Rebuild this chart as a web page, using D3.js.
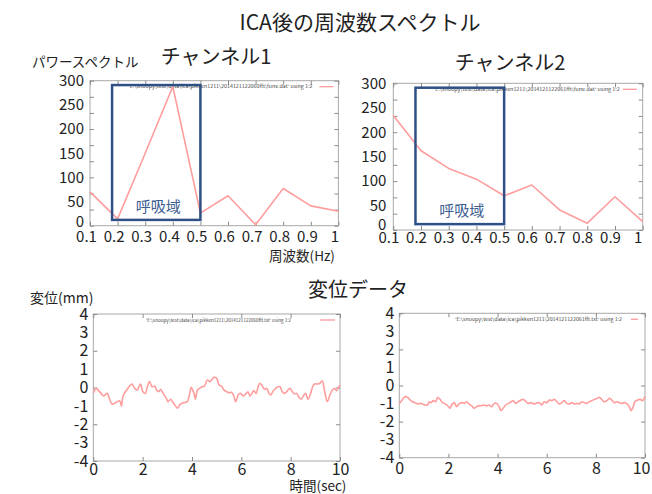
<!DOCTYPE html>
<html>
<head>
<meta charset="utf-8">
<script src="https://cdn.jsdelivr.net/npm/d3@7/dist/d3.min.js"></script>
<style>
body { margin: 0; background: #fff; }
text { font-family: "Noto Sans CJK JP", "Noto Sans", sans-serif; fill: #222; }
</style>
</head>
<body>
<script>
var width = 652
var height = 494

var freqs = [0.1, 0.2, 0.3, 0.4, 0.5, 0.6, 0.7, 0.8, 0.9, 1.0]
var spec1 = [70, 14, 150, 288, 26, 62, 2, 77, 41, 30]
var spec2 = [234, 162, 126, 104, 70, 92, 41, 14, 68, 17]
var specTicks = [0, 50, 100, 150, 200, 250, 300]
var freqTicks = [0.1, 0.2, 0.3, 0.4, 0.5, 0.6, 0.7, 0.8, 0.9, 1]
var dispTicks = [-4, -3, -2, -1, 0, 1, 2, 3, 4]
var timeTicks = [0, 2, 4, 6, 8, 10]
var breathBand = [0.18, 0.5]
var breathLevel = [12, 291]

// [sec, mm]
var disp1 = [[0,-0.3],[0.12,-0.05],[0.19,-0.14],[0.32,-0.32],[0.42,-0.46],[0.57,-0.32],[0.66,-0.64],[0.76,-0.9],[0.87,-0.86],[0.97,-0.77],[1.07,-0.72],[1.14,-1.0],[1.2,-0.5],[1.3,-0.23],[1.38,-0.1],[1.47,0.08],[1.57,0.19],[1.68,-0.05],[1.78,-0.14],[1.91,0.19],[2.01,-0.23],[2.11,-0.32],[2.19,0.04],[2.28,0.32],[2.38,0.04],[2.49,0.08],[2.56,-0.14],[2.65,-0.23],[2.73,-0.1],[2.83,-0.32],[2.96,-0.59],[3.03,-0.77],[3.14,-0.64],[3.23,-0.82],[3.33,-1.0],[3.41,-1.13],[3.5,-0.95],[3.6,-0.86],[3.7,-0.82],[3.81,-0.77],[3.91,-0.32],[3.97,0.01],[4.08,-0.32],[4.14,-0.64],[4.22,-0.14],[4.31,-0.05],[4.41,0.04],[4.51,0.08],[4.62,0.41],[4.72,0.32],[4.81,0.44],[4.89,0.55],[5.0,0.5],[5.1,0.14],[5.19,0.08],[5.3,-0.14],[5.41,-0.23],[5.5,-0.28],[5.6,-0.26],[5.68,-0.41],[5.77,-0.77],[5.87,-0.41],[5.97,-0.32],[6.08,-0.46],[6.18,-0.35],[6.27,-0.23],[6.35,-0.46],[6.45,-0.28],[6.51,-0.17],[6.6,-0.32],[6.68,0.04],[6.76,0.23],[6.85,0.08],[6.95,-0.1],[7.03,-0.05],[7.12,-0.32],[7.19,-0.41],[7.3,-0.17],[7.39,-0.05],[7.49,0.04],[7.57,0.04],[7.66,-0.23],[7.76,-0.32],[7.87,-0.17],[7.97,-0.05],[8.07,-0.23],[8.16,-0.35],[8.24,-0.32],[8.34,-0.54],[8.43,-0.64],[8.51,-0.46],[8.61,-0.32],[8.7,-0.64],[8.81,-0.32],[8.89,0.04],[8.97,0.19],[9.08,0.19],[9.19,0.23],[9.28,0.37],[9.38,-0.23],[9.49,-0.77],[9.59,-0.41],[9.69,-0.14],[9.78,-0.05],[9.86,-0.17],[9.96,0.04],[10,0.14]]
var disp2 = [[0,-0.99],[0.12,-0.8],[0.23,-0.62],[0.34,-0.66],[0.44,-0.8],[0.53,-0.9],[0.64,-0.95],[0.75,-1.02],[0.84,-0.99],[0.94,-1.02],[1.05,-1.08],[1.14,-1.08],[1.22,-0.9],[1.29,-0.95],[1.39,-0.84],[1.48,-0.9],[1.56,-0.66],[1.66,-0.77],[1.75,-0.95],[1.83,-0.99],[1.93,-1.08],[2.0,-1.17],[2.06,-1.26],[2.16,-1.02],[2.24,-0.95],[2.33,-1.17],[2.43,-1.02],[2.54,-0.95],[2.65,-0.99],[2.74,-0.9],[2.84,-1.02],[2.95,-1.13],[3.05,-1.26],[3.15,-1.17],[3.24,-1.13],[3.35,-1.12],[3.46,-1.08],[3.56,-1.13],[3.65,-1.08],[3.76,-1.17],[3.87,-0.99],[3.96,-0.99],[4.06,-1.17],[4.14,-1.39],[4.23,-1.26],[4.33,-1.08],[4.44,-0.99],[4.55,-0.9],[4.64,-0.84],[4.74,-0.99],[4.84,-0.9],[4.95,-0.8],[5.06,-0.77],[5.16,-0.9],[5.25,-0.99],[5.36,-0.95],[5.47,-1.02],[5.56,-0.99],[5.7,-0.95],[5.8,-1.08],[5.9,-0.9],[6.01,-0.95],[6.11,-0.8],[6.2,-0.84],[6.31,-0.77],[6.42,-0.9],[6.51,-1.02],[6.61,-0.95],[6.72,-0.84],[6.81,-0.99],[6.92,-1.02],[7.02,-0.95],[7.12,-1.02],[7.23,-0.99],[7.33,-1.02],[7.42,-0.9],[7.53,-0.95],[7.64,-0.99],[7.73,-0.9],[7.83,-0.84],[7.94,-0.77],[8.05,-0.71],[8.14,-0.66],[8.24,-0.77],[8.34,-0.9],[8.45,-0.84],[8.55,-0.71],[8.64,-0.8],[8.75,-0.95],[8.86,-0.9],[8.95,-0.95],[9.05,-0.99],[9.16,-0.95],[9.27,-1.02],[9.36,-1.17],[9.43,-1.39],[9.51,-1.21],[9.59,-0.9],[9.7,-0.8],[9.81,-0.77],[9.9,-0.84],[10,-0.6]]

var legendSpec1 = "'E:\\snoopy\\test\\data\\ica\\pikken1211\\2014121122060fft\\fune.dat' using 1:2"
var legendSpec2 = "'E:\\snoopy\\test\\data\\ica\\pikken1211\\2014121122061fft\\fune.dat' using 1:2"
var legendDisp1 = "'E:\\snoopy\\test\\data\\ica\\pikken1211\\2014121122060fft.txt' using 1:2"
var legendDisp2 = "'E:\\snoopy\\test\\data\\ica\\pikken1211\\2014121122061fft.txt' using 1:2"

var svg = d3.select('body').append('svg').attr('width', width).attr('height', height)
svg.append('rect').attr('width', width).attr('height', height).attr('fill', '#fff')

const panel = p => {
    const x = d3.scaleLinear().domain(p.xDomain).range([p.left, p.right])
    const y = d3.scaleLinear().domain(p.yDomain).range([p.bottom, p.top])
    const g = svg.append('g')

    // gnuplot style frame with inward ticks
    g.append('rect').attr('x', p.left).attr('y', p.top).attr('width', p.right - p.left).attr('height', p.bottom - p.top)
        .attr('fill', 'none').attr('stroke', '#a8a8a8').attr('stroke-width', 1)
    const inner = [
        [d3.axisBottom(x).tickValues(p.frameX), `translate(0,${p.bottom})`],
        [d3.axisTop(x).tickValues(p.frameX), `translate(0,${p.top})`],
        [d3.axisLeft(y).tickValues(p.frameY), `translate(${p.left},0)`],
        [d3.axisRight(y).tickValues(p.frameY), `translate(${p.right},0)`]
    ]
    inner.forEach(a => {
        const ag = g.append('g').attr('transform', a[1]).call(a[0].tickSize(-4).tickFormat(''))
        ag.select('.domain').remove()
        ag.selectAll('line').attr('stroke', '#8a8a8a')
    })

    // labels
    const xl = g.append('g').attr('transform', `translate(${p.xdx},${p.bottom})`)
        .call(d3.axisBottom(x).tickValues(p.xTicks).tickSize(0).tickPadding(p.xPad).tickFormat(d => d))
    xl.select('.domain').remove()
    xl.selectAll('text').attr('font-size', p.fs).attr('fill', '#222').attr('font-family', '"Noto Sans CJK JP", sans-serif')
    // keep the last label inside the page
    xl.selectAll('text').each(function (d) {
        const over = x(d) + p.xdx + this.getComputedTextLength() / 2 - (width - 2)
        if (over > 0) d3.select(this).attr('dx', -over)
    })
    const yl = g.append('g').attr('transform', `translate(${p.left},0)`)
        .call(d3.axisLeft(y).tickValues(p.yTicks).tickSize(0).tickPadding(p.yPad).tickFormat(d => d))
    yl.select('.domain').remove()
    yl.selectAll('text').attr('font-size', p.fs).attr('fill', '#222').attr('font-family', '"Noto Sans CJK JP", sans-serif')
        .attr('dy', d => (d === p.yDomain[0] && p.lift) ? `${0.32 - p.lift / p.fs}em` : '0.32em')

    // legend
    g.append('text').attr('x', p.right - p.legEnd).attr('y', p.top + 7.5).attr('text-anchor', 'end')
        .attr('font-size', 4.6).attr('textLength', p.legLen).attr('lengthAdjust', 'spacingAndGlyphs')
        .style('fill', '#444').text(p.legend)
    g.append('line').attr('x1', p.right - p.legLine[0]).attr('x2', p.right - p.legLine[1])
        .attr('y1', p.top + 6).attr('y2', p.top + 6).attr('stroke', '#ff9a9a').attr('stroke-width', 1.3)

    const line = d3.line().x(d => x(d[0])).y(d => y(d[1]))
    if (p.curve) line.curve(p.curve)
    g.append('path').datum(p.data).attr('d', line).attr('fill', 'none')
        .attr('stroke', '#ff9d9d').attr('stroke-width', 1.6).attr('stroke-linejoin', 'round')

    if (p.band) {
        const bx = x(breathBand[0]), bw = x(breathBand[1]) - bx
        const by = y(breathLevel[1]), bh = y(breathLevel[0]) - by
        g.append('rect').attr('x', bx).attr('y', by).attr('width', bw).attr('height', bh)
            .attr('fill', 'none').attr('stroke', '#2f5086').attr('stroke-width', 2.5)
        g.append('text').attr('x', bx + bw / 2 + 2).attr('y', y(breathLevel[0]) - 8).attr('text-anchor', 'middle')
            .attr('font-size', 15).style('fill', '#3c5e92').text('呼吸域')
    }
    return g
}

const spectrumFrameY = d3.range(0, 301, 300 / 9)

panel({ left: 90, right: 338.4, top: 80.7, bottom: 225.7, xDomain: [0.1, 1], yDomain: [0, 300],
    data: freqs.map((f, i) => [f, spec1[i]]), xTicks: freqTicks, yTicks: specTicks,
    frameX: freqTicks, frameY: spectrumFrameY, xPad: 6, yPad: 6, xdx: -4, fs: 15, lift: 4,
    legend: legendSpec1, legEnd: 26, legLen: 184, legLine: [19, 5], band: true })

panel({ left: 393.3, right: 642.7, top: 83.3, bottom: 230, xDomain: [0.1, 1], yDomain: [0, 300],
    data: freqs.map((f, i) => [f, spec2[i]]), xTicks: freqTicks, yTicks: specTicks,
    frameX: freqTicks, frameY: spectrumFrameY, xPad: 2, yPad: 7, xdx: -5, fs: 15, lift: 5,
    legend: legendSpec2, legEnd: 23, legLen: 186, legLine: [20, 6], band: true })

panel({ left: 93.3, right: 340, top: 314, bottom: 461, xDomain: [0, 10], yDomain: [-4, 4],
    data: disp1, xTicks: timeTicks, yTicks: dispTicks, curve: d3.curveCatmullRom,
    frameX: timeTicks, frameY: [-4, -2, 0, 2, 4], xPad: 3, yPad: 5, xdx: 0, fs: 16, lift: 0,
    legend: legendDisp1, legEnd: 49, legLen: 145, legLine: [20, 5], band: false })

panel({ left: 399.3, right: 645, top: 313.3, bottom: 457.7, xDomain: [0, 10], yDomain: [-4, 4],
    data: disp2, xTicks: timeTicks, yTicks: dispTicks, curve: d3.curveCatmullRom,
    frameX: timeTicks, frameY: [-4, -2, 0, 2, 4], xPad: 5, yPad: 5, xdx: 0, fs: 16, lift: 0,
    legend: legendDisp2, legEnd: 23, legLen: 167, legLine: [14, 7], band: false })

// titles and axis names
const label = (t, x, y, size, anchor) => svg.append('text').attr('x', x).attr('y', y)
    .attr('font-size', size).attr('text-anchor', anchor || 'middle').text(t)

label('ICA後の周波数スペクトル', 360, 30, 21)
label('チャンネル1', 216, 64, 20)
label('チャンネル2', 510, 70, 20)
label('パワースペクトル', 32, 67, 13.5, 'start')
label('周波数(Hz)', 302, 261, 13.5)
label('変位データ', 358, 297, 20)
label('変位(mm)', 30, 303, 14, 'start')
label('時間(sec)', 318, 490.5, 13.5)
</script>
</body>
</html>
